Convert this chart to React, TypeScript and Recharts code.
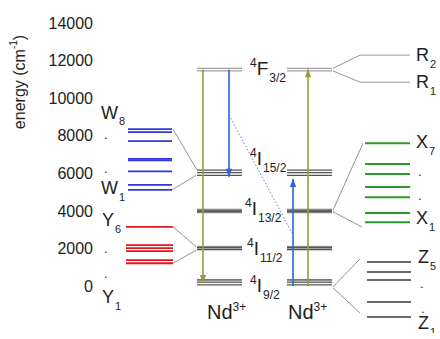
import React from 'react';
import { ComposedChart, XAxis, YAxis, ReferenceLine, Scatter } from 'recharts';

// energies in cm^-1
const yTicks = [0, 2000, 4000, 6000, 8000, 10000, 12000, 14000];

const wLevels = [5120, 5380, 6100, 6690, 6770, 7710, 8190, 8350]; // W1..W8
const yLevels = [1210, 1380, 1860, 2020, 2180, 3150]; // Y1..Y6
const xLevels = [3400, 3880, 4730, 5270, 5960, 6490, 7600]; // X1..X7
const zLevels = [-1650, -850, 320, 750, 1280]; // Z1..Z5
const rLevels = [10850, 12290]; // R1, R2

const ndF32 = [11450, 11590];
const ndI152 = [5890, 6030, 6170];
const ndI132 = [3950, 4040];
const ndI112 = [1950, 2060];
const ndI92 = [60, 200, 330];

// layout (horizontal units)
const COL = {
  w: [128, 172], y: [126, 173], nd1: [197, 242], nd2: [287, 332],
  r: [360, 410], x: [365, 410], z: [367, 411],
};

const OLIVE = '#9a9a3a';
const BLUE = '#2f62d8';
const FONT = '"Liberation Sans", Arial, sans-serif';

const arrows = [
  { x: 203, from: 11520, to: 160, color: OLIVE },
  { x: 229, from: 11520, to: 5820, color: BLUE },
  { x: 293, from: 0, to: 5700, color: BLUE },
  { x: 308, from: 0, to: 11540, color: OLIVE },
];

type Seg = { t: string; k?: 'sup' | 'sub' };
const labels: { x: number; E: number; size: number; segs: Seg[] }[] = [
  { x: 101, E: 9260, size: 18, segs: [{ t: 'W' }, { t: '8', k: 'sub' }] },
  { x: 104, E: 8100, size: 13, segs: [{ t: '.' }] },
  { x: 104, E: 6250, size: 13, segs: [{ t: '.' }] },
  { x: 101, E: 5217, size: 18, segs: [{ t: 'W' }, { t: '1', k: 'sub' }] },
  { x: 102, E: 3513, size: 18, segs: [{ t: 'Y' }, { t: '6', k: 'sub' }] },
  { x: 104, E: 1990, size: 13, segs: [{ t: '.' }] },
  { x: 104, E: 660, size: 13, segs: [{ t: '.' }] },
  { x: 102, E: -586, size: 18, segs: [{ t: 'Y' }, { t: '1', k: 'sub' }] },
  { x: 416, E: 12296, size: 18, segs: [{ t: 'R' }, { t: '2', k: 'sub' }] },
  { x: 416, E: 10859, size: 18, segs: [{ t: 'R' }, { t: '1', k: 'sub' }] },
  { x: 416, E: 7665, size: 18, segs: [{ t: 'X' }, { t: '7', k: 'sub' }] },
  { x: 418, E: 6090, size: 13, segs: [{ t: '.' }] },
  { x: 418, E: 4810, size: 13, segs: [{ t: '.' }] },
  { x: 416, E: 3620, size: 18, segs: [{ t: 'X' }, { t: '1', k: 'sub' }] },
  { x: 418, E: 1544, size: 18, segs: [{ t: 'Z' }, { t: '5', k: 'sub' }] },
  { x: 420, E: 130, size: 13, segs: [{ t: '.' }] },
  { x: 421, E: -1180, size: 13, segs: [{ t: '.' }] },
  { x: 418, E: -1950, size: 18, segs: [{ t: 'Z' }, { t: '1', k: 'sub' }] },
  { x: 250, E: 11604, size: 19, segs: [{ t: '4', k: 'sup' }, { t: 'F' }, { t: '3/2', k: 'sub' }] },
  { x: 250, E: 6813, size: 19, segs: [{ t: '4', k: 'sup' }, { t: 'I' }, { t: '15/2', k: 'sub' }] },
  { x: 245, E: 4152, size: 19, segs: [{ t: '4', k: 'sup' }, { t: 'I' }, { t: '13/2', k: 'sub' }] },
  { x: 247, E: 2023, size: 19, segs: [{ t: '4', k: 'sup' }, { t: 'I' }, { t: '11/2', k: 'sub' }] },
  { x: 250, E: 53, size: 19, segs: [{ t: '4', k: 'sup' }, { t: 'I' }, { t: '9/2', k: 'sub' }] },
  { x: 207, E: -1384, size: 20, segs: [{ t: 'Nd' }, { t: '3+', k: 'sup' }] },
  { x: 288, E: -1384, size: 20, segs: [{ t: 'Nd' }, { t: '3+', k: 'sup' }] },
];

const seg = (key: string, x1: number, e1: number, x2: number, e2: number, stroke: string, w = 1, dash?: string) => (
  <ReferenceLine key={key} segment={[{ x: x1, y: e1 }, { x: x2, y: e2 }]} stroke={stroke}
    strokeWidth={w} strokeDasharray={dash} ifOverflow="visible" />
);

const levels = (key: string, col: number[], es: number[], stroke: string, w: number) =>
  es.map((e, i) => seg(`${key}${i}`, col[0], e, col[1], e, stroke, w));

function LabelShape(p: any) {
  const { cx, cy, payload } = p;
  const size = payload.size;
  const small = Math.round(size * 0.62);
  let off = 0;
  return (
    <text x={cx} y={cy + size * 0.36} fontSize={size} fill="#222" fontFamily={FONT}>
      {payload.segs.map((s: Seg, i: number) => {
        const target = s.k === 'sup' ? -size * 0.42 : s.k === 'sub' ? size * 0.36 : 0;
        const dy = target - off;
        off = target;
        return <tspan key={i} dy={dy} dx={s.k === 'sub' ? 1 : 0} fontSize={s.k ? small : size}>{s.t}</tspan>;
      })}
    </text>
  );
}

function Head(p: any) {
  const { cx, cy, payload } = p;
  const d = payload.to > payload.from ? 1 : -1;
  return <polygon points={`${cx},${cy} ${cx - 3.2},${cy + d * 8} ${cx + 3.2},${cy + d * 8}`} fill={payload.color} />;
}

const yLabel = () => (
  <text x={19} y={82} transform="rotate(-90, 19, 82)" textAnchor="middle" dominantBaseline="central"
    fontSize={16} fill="#222" fontFamily={FONT}>
    energy (cm<tspan dy={-6} fontSize={10}>-1</tspan><tspan dy={6}>)</tspan>
  </text>
);

export default function App() {
  const heads = arrows.map(a => ({ x: a.x, E: a.to, from: a.from, to: a.to, color: a.color }));
  const nd = (c: number[], k: string) => [
    ...levels(`${k}f`, c, ndF32, '#888', 1),
    ...levels(`${k}a`, c, ndI152, '#555', 1.3),
    seg(`${k}b0`, c[0], 3995, c[1], 3995, '#bbb', 5),
    ...levels(`${k}b`, c, ndI132, '#555', 1.4),
    seg(`${k}c0`, c[0], 2005, c[1], 2005, '#bbb', 5),
    ...levels(`${k}c`, c, ndI112, '#555', 1.4),
    seg(`${k}d0`, c[0], 250, c[1], 250, '#ccc', 4),
    ...levels(`${k}d`, c, ndI92, '#555', 1.2),
  ];
  return (
    <div style={{ position: 'absolute', left: 0, top: 0, background: '#fff' }}>
      <ComposedChart width={440} height={339} margin={{ top: 4.21, right: 0, bottom: 6.03, left: 0 }}>
        <XAxis type="number" dataKey="x" domain={[101, 440]} hide allowDataOverflow />
        <YAxis type="number" dataKey="E" domain={[-2500, 15000]} ticks={yTicks} width={101}
          axisLine={false} tickLine={false} allowDataOverflow label={yLabel}
          tick={{ fontSize: 16, fill: '#222', fontFamily: FONT }} />
        {levels('w', COL.w, wLevels, '#3535dc', 1.8)}
        {levels('y', COL.y, yLevels, '#e8141c', 1.8)}
        {levels('x', COL.x, xLevels, '#2a9a2a', 2)}
        {levels('z', COL.z, zLevels, '#3a3a3a', 1.5)}
        {levels('r', COL.r, rLevels, '#999', 1)}
        {nd(COL.nd1, 'n1')}
        {nd(COL.nd2, 'n2')}
        {seg('cw1', 173, 8350, 197, 6170, '#777', 0.8)}
        {seg('cw2', 172, 5120, 196, 5890, '#777', 0.8)}
        {seg('cy1', 173, 3150, 196, 2100, '#777', 0.8)}
        {seg('cy2', 173, 1210, 196, 1900, '#777', 0.8)}
        {seg('cr1', 333, 11590, 360, 12290, '#777', 0.8)}
        {seg('cr2', 333, 11450, 360, 10850, '#777', 0.8)}
        {seg('cx1', 333, 4040, 363, 7600, '#777', 0.8)}
        {seg('cx2', 333, 3950, 362, 3140, '#777', 0.8)}
        {seg('cz1', 333, -50, 360, 1440, '#777', 0.8)}
        {seg('cz2', 333, -100, 360, -1440, '#777', 0.8)}
        {seg('dot', 229, 9100, 292, 2820, BLUE, 0.8, '1.5 2')}
        {arrows.map((a, i) => seg(`ar${i}`, a.x, a.from, a.x, a.to, a.color, 1.6))}
        <Scatter data={heads} dataKey="E" shape={Head} isAnimationActive={false} />
        <Scatter data={labels} dataKey="E" shape={LabelShape} isAnimationActive={false} />
      </ComposedChart>
    </div>
  );
}
